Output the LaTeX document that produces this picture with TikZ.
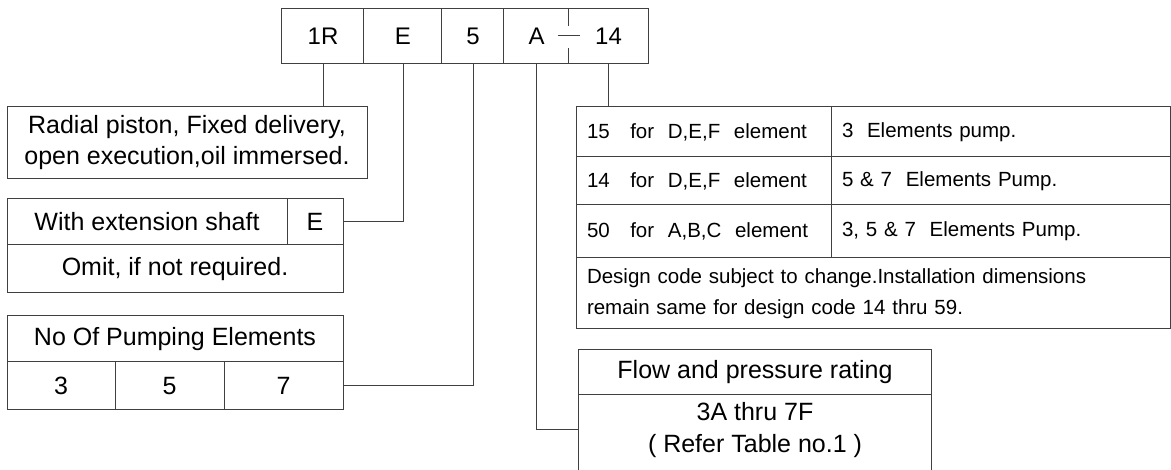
\documentclass[tikz,border=0pt]{standalone}
\usepackage{fontspec}
\setmainfont{Liberation Sans}
\usepackage{tikz}
\tikzstyle{wire}=[draw=black!75,line width=1pt]
\tikzstyle{code}=[inner sep=0pt,minimum height=54pt,font=\fontsize{24}{28}\selectfont]
\tikzstyle{cell}=[draw=black!75,line width=1pt,inner sep=0pt,align=center,font=\fontsize{25}{31}\selectfont]
\tikzstyle{plain}=[inner sep=0pt,align=center,font=\fontsize{25}{32}\selectfont]
\tikzstyle{tab}=[draw=black!75,line width=1pt,inner ysep=0pt,inner xsep=11pt,align=left,font=\fontsize{20.5}{31}\selectfont]

\begin{document}
\begin{tikzpicture}[x=1pt,y=-1pt]
        \useasboundingbox (0,0) rectangle (1171,470);
        % order code
        \node at (323,36) [code,minimum width=82pt] (c1R) {1R};
        \node at (403,36) [code,minimum width=78pt] (cE) {E};
        \node at (473,36) [code,minimum width=62pt] (c5) {5};
        \node at (536.5,36) [code,minimum width=65pt] (cA) {A};
        \node at (608.5,36) [code,minimum width=79pt] (c14) {14};
        \draw [wire] (c1R.north west) rectangle (c14.south east);
        \draw [wire] (cE.north west) -- (cE.south west);
        \draw [wire] (c5.north west) -- (c5.south west);
        \draw [wire] (cA.north west) -- (cA.south west);
        \draw [wire] (c14.north west) -- ++(0,17);
        \draw [wire] (c14.south west) -- ++(0,-15);
        \draw [wire] ([xshift=-11pt]c14.west) -- ++(22,0);
        % left boxes
        \node at (187,143) [cell,minimum width=360pt,minimum height=72pt] (radial) {Radial piston, Fixed delivery,\\open execution,oil immersed.};
        \node at (147,222) [cell,minimum width=280pt,minimum height=46pt] (shaft) {With extension shaft};
        \node at (315,222) [cell,minimum width=56pt,minimum height=46pt] (shaftE) {E};
        \node at (175,269) [cell,minimum width=336pt,minimum height=48pt] (omit) {Omit, if not required.};
        \node at (175,339) [cell,minimum width=336pt,minimum height=46pt] (pumps) {No Of Pumping Elements};
        \node at (61,386) [cell,minimum width=108pt,minimum height=48pt] (p3) {3};
        \node at (169.5,386) [cell,minimum width=109pt,minimum height=48pt] (p5) {5};
        \node at (283.5,386) [cell,minimum width=119pt,minimum height=48pt] (p7) {7};
        % design code table
        \node at (703.5,132) [tab,text width=233pt,minimum height=50pt] (r15) {15\ \ \ for\ \ D,E,F\ \ element};
        \node at (1000.5,132) [tab,text width=317pt,minimum height=50pt] (r15p) {3\ \ Elements pump.};
        \node at (703.5,181) [tab,text width=233pt,minimum height=48pt] (r14) {14\ \ \ for\ \ D,E,F\ \ element};
        \node at (1000.5,181) [tab,text width=317pt,minimum height=48pt] (r14p) {5 \& 7\ \ Elements Pump.};
        \node at (703.5,231.5) [tab,text width=233pt,minimum height=53pt] (r50) {50\ \ \ for\ \ A,B,C\ \ element};
        \node at (1000.5,231.5) [tab,text width=317pt,minimum height=53pt] (r50p) {3, 5 \& 7\ \ Elements Pump.};
        \node at (873,293.5) [tab,text width=572pt,minimum height=71pt] (note) {Design code subject to change.Installation dimensions\\remain same for design code 14 thru 59.};
        % flow rating
        \node at (755,372) [plain,minimum width=352pt,minimum height=44pt] (flow) {Flow and pressure rating};
        \node at (755,430) [plain,minimum width=352pt,minimum height=72pt] (rating) {3A thru 7F\\( Refer Table no.1 )};
        \draw [wire] (flow.north west) rectangle (flow.south east);
        \draw [wire] (flow.south west) -- ([yshift=-10pt]rating.south west);
        \draw [wire] (flow.south east) -- ([yshift=-10pt]rating.south east);
        % leaders
        \draw [wire] (c1R.south) -- (c1R.south |- radial.north);
        \draw [wire] (cE.south) |- (shaftE.east);
        \draw [wire] (c5.south) |- (p7.east);
        \draw [wire] (cA.south) |- (rating.west);
        \draw [wire] (c14.south) -- (c14.south |- r15.north);
      \end{tikzpicture}
\end{document}
